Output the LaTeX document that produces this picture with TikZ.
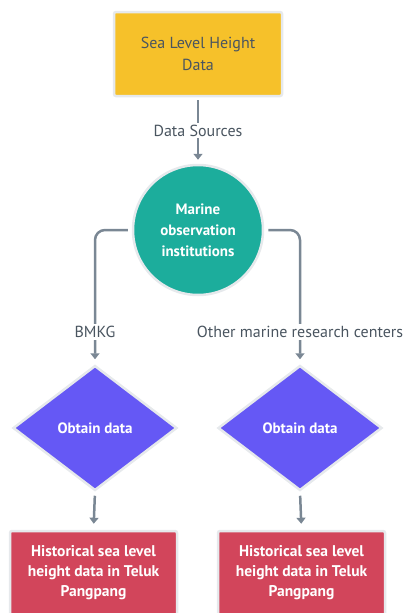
\documentclass[tikz,border=0pt]{standalone}
\usepackage{fontspec}
\setmainfont{PT Sans}
\usetikzlibrary{shapes.geometric,arrows.meta}
\definecolor{cyellow}{HTML}{F6C12A}
\definecolor{cteal}{HTML}{1CAD9C}
\definecolor{cpurple}{HTML}{6558F5}
\definecolor{cred}{HTML}{D2455B}
\definecolor{cline}{HTML}{7A8794}
\definecolor{ctext}{HTML}{4A5560}
\definecolor{cglow}{HTML}{E6E9EC}
\tikzset{
  x=1pt, y=-1pt,
  shape base/.style={draw=cglow, line width=2.5pt, text=white, font=\bfseries\fontsize{15}{21}\selectfont, align=center, inner sep=0pt},
  boxstyle/.style={shape base, rectangle, rounded corners=2pt},
  conn/.style={draw=cline, line width=2.5pt, -{Triangle[width=9pt,length=6pt]}},
  lbl/.style={fill=white, text=ctext, font=\fontsize{16}{18}\selectfont, inner sep=2pt}
}
\begin{document}
\begin{tikzpicture}
\useasboundingbox (0,0) rectangle (403,613);
\clip (0,0) rectangle (403,613);
\node[boxstyle, fill=cyellow, text=ctext, font=\fontsize{16}{22}\selectfont, minimum width=168pt, minimum height=84pt] (top) at (198,54) {Sea Level Height\\Data};
\node[shape base, circle, fill=cteal, minimum size=130pt] (circ) at (198,230) {Marine\\observation\\institutions};
\node[shape base, diamond, fill=cpurple, minimum width=164pt, minimum height=125pt] (ld) at (95,428) {Obtain data};
\node[shape base, diamond, fill=cpurple, minimum width=164pt, minimum height=125pt] (rd) at (300,428) {Obtain data};
\node[boxstyle, fill=cred, minimum width=167pt, minimum height=100pt] (lb) at (93.5,581) {};
\node[boxstyle, fill=cred, minimum width=167pt, minimum height=100pt] (rb) at (301.5,581) {};
\node[text=white, font=\bfseries\fontsize{15.5}{20}\selectfont, align=center] (lbt) at (93.5,573) {Historical sea level\\height data in Teluk\\Pangpang};
\node[text=white, font=\bfseries\fontsize{15.5}{20}\selectfont, align=center] (rbt) at (301.5,573) {Historical sea level\\height data in Teluk\\Pangpang};
\draw[conn, shorten <=3pt, shorten >=4pt] (top.south) -- node[lbl, pos=0.5] {Data Sources} (circ.north);
\draw[conn, rounded corners=10pt, shorten <=4pt, shorten >=5pt] (circ.west) -| node[lbl, pos=0.88] {BMKG} (ld.north);
\draw[conn, rounded corners=10pt, shorten <=4pt, shorten >=5pt] (circ.east) -| node[lbl, pos=0.88] {Other marine research centers} (rd.north);
\draw[conn, shorten <=4pt, shorten >=6pt] (ld.south) -- (lb.north);
\draw[conn, shorten <=4pt, shorten >=6pt] (rd.south) -- (rb.north);
\end{tikzpicture}
\end{document}
